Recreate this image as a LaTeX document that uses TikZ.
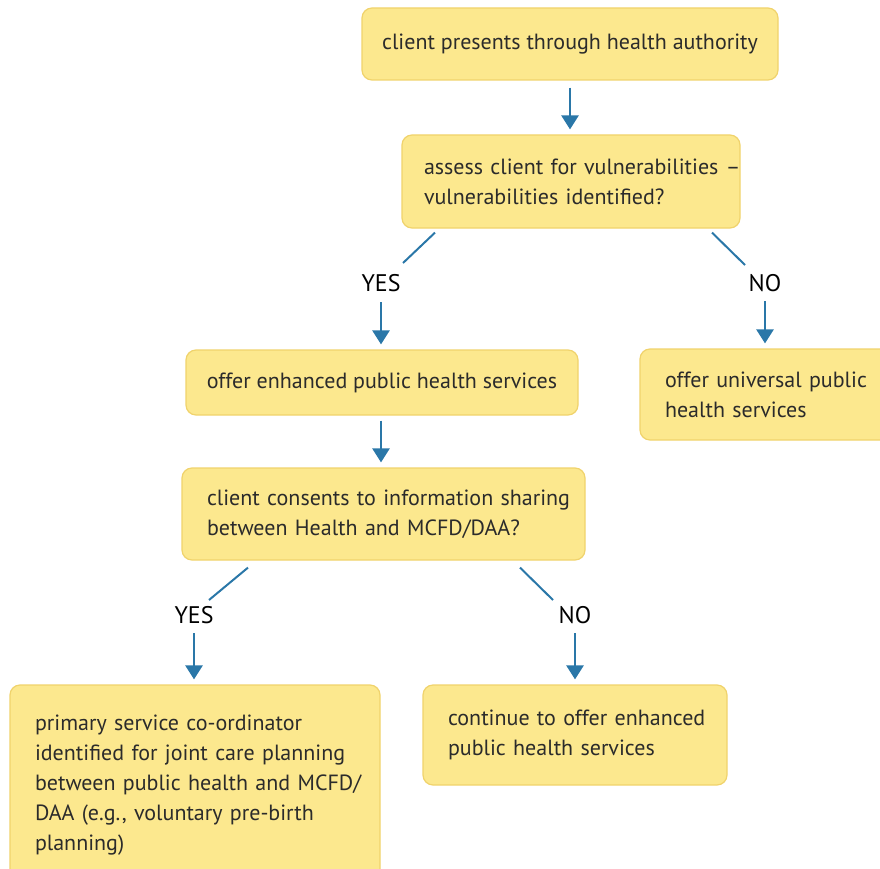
\documentclass[tikz,border=0pt]{standalone}
\usepackage{fontspec}
\setmainfont{PT Sans}
\usetikzlibrary{arrows.meta}
\definecolor{boxfill}{HTML}{FCE88E}
\definecolor{boxedge}{HTML}{F0D36C}
\definecolor{flowblue}{HTML}{2A77A8}
\definecolor{ink}{HTML}{2B2B2B}
\begin{document}
\begin{tikzpicture}[x=1pt,y=-1pt,
  box/.style={draw=boxedge,line width=1.2pt,fill=boxfill,rounded corners=10pt,
    text=ink,font=\fontsize{22}{30}\selectfont,inner xsep=0pt,inner ysep=0pt},
  lbox/.style={box,align=left},
  cbox/.style={box,align=center},
  answer/.style={font=\fontsize{24}{28}\selectfont,text=black,inner sep=0pt},
  flow/.style={draw=flowblue,line width=2.6pt,-{Triangle[length=14pt,width=17pt]}},
  branch/.style={draw=flowblue,line width=2pt}]
\useasboundingbox (0,0) rectangle (880,869);
\begin{scope}
\clip (0,0) rectangle (880,869);
% process boxes
\node[cbox,minimum width=416pt,minimum height=72pt] (present) at (570,44)
  {client presents through health authority};
\node[lbox,minimum width=338pt,minimum height=93pt,text width=294pt] (assess) at (571,181.5)
  {\mbox{assess client for vulnerabilities --}\\\mbox{vulnerabilities identified?}};
\node[cbox,minimum width=392pt,minimum height=65pt] (enhanced) at (382,382.5)
  {offer enhanced public health services};
\node[lbox,minimum width=250pt,minimum height=91pt,text width=200pt] (universal) at (765,394.5)
  {\mbox{offer universal public}\\\mbox{health services}};
\node[lbox,minimum width=403pt,minimum height=92pt,text width=353pt] (consent) at (383.5,514)
  {\mbox{client consents to information sharing}\\\mbox{between Health and MCFD/DAA?}};
\node[lbox,minimum width=370pt,minimum height=200pt,text width=320pt] (coordinator) at (195,785)
  {\mbox{primary service co-ordinator}\\\mbox{identified for joint care planning}\\\mbox{between public health and MCFD/}\\\mbox{DAA (e.g., voluntary pre-birth}\\\mbox{planning)}};
\node[lbox,minimum width=304pt,minimum height=100pt,text width=254pt] (continue) at (575,735)
  {\mbox{continue to offer enhanced}\\\mbox{public health services}};
% decision answers
\node[answer] (yes1) at (381,283) {YES};
\node[answer] (no1) at (765,283) {NO};
\node[answer] (yes2) at (194,615) {YES};
\node[answer] (no2) at (575,615) {NO};
\end{scope}
% connectors (vertical arrows keep the x of their start)
\coordinate (a1) at ([shift={(0,7)}]present.south);
\draw[flow] (a1) -- ([shift={(0,-5)}]a1 |- assess.north);
\draw[branch] ([shift={(-136,4)}]assess.south) -- ([shift={(22,-20)}]yes1.center);
\draw[branch] ([shift={(141,4)}]assess.south) -- ([shift={(-20,-18)}]no1.center);
\coordinate (a2) at ([shift={(0,19)}]yes1.center);
\draw[flow] (a2) -- ([shift={(0,-5)}]a2 |- enhanced.north);
\coordinate (a3) at ([shift={(0,18)}]no1.center);
\draw[flow] (a3) -- ([shift={(0,-5)}]a3 |- universal.north);
\coordinate (a4) at ([shift={(-1,5)}]enhanced.south);
\draw[flow] (a4) -- ([shift={(0,-5)}]a4 |- consent.north);
\draw[branch] ([shift={(-135.5,7)}]consent.south) -- ([shift={(15,-15)}]yes2.center);
\draw[branch] ([shift={(136.5,7)}]consent.south) -- ([shift={(-22,-15)}]no2.center);
\coordinate (a5) at ([shift={(0,18)}]yes2.center);
\draw[flow] (a5) -- ([shift={(0,-5)}]a5 |- coordinator.north);
\coordinate (a6) at ([shift={(0,18)}]no2.center);
\draw[flow] (a6) -- ([shift={(0,-5)}]a6 |- continue.north);
\end{tikzpicture}
\end{document}
